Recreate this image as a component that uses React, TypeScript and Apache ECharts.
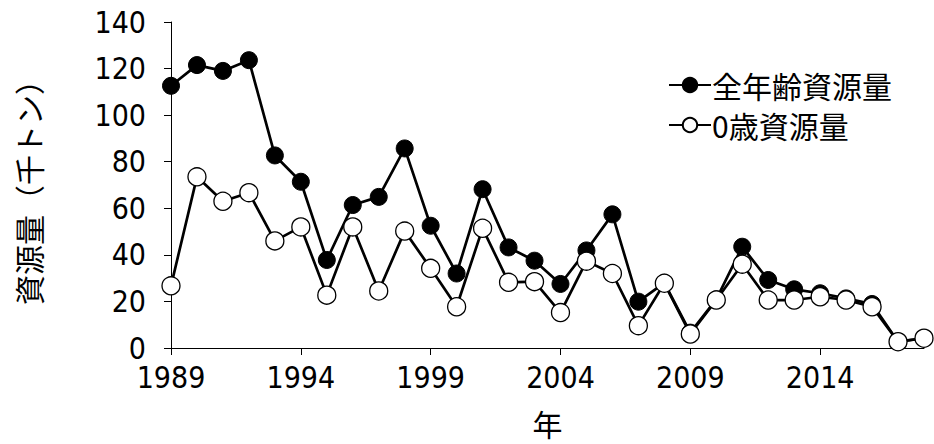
import React, { useEffect, useRef } from "react";
import * as echarts from "echarts";

const years = [
  "1989","1990","1991","1992","1993","1994","1995","1996","1997","1998",
  "1999","2000","2001","2002","2003","2004","2005","2006","2007","2008",
  "2009","2010","2011","2012","2013","2014","2015","2016","2017","2018",
];
const allAgeBiomass = [
  112.6, 121.5, 119, 123.6, 82.7, 71.4, 37.8, 61.4, 64.9, 85.7,
  52.5, 32, 68.2, 43.2, 37.5, 27.5, 41.9, 57.4, 19.9, 28,
  6.6, 20.9, 43.5, 29.2, 25.2, 23.5, 21.3, 18.9, 2.7, 4.2,
];
const age0Biomass = [
  26.7, 73.5, 63, 66.7, 46, 52, 22.7, 52, 24.5, 50.2,
  34.2, 17.7, 51.4, 28.2, 28.5, 15.2, 37.3, 32, 9.6, 27.8,
  6, 20.6, 36, 20.6, 20.6, 22, 20.6, 17.7, 2.7, 4.2,
];
const seriesNames = ["全年齢資源量", "0歳資源量"];
const yAxisTitle = "資源量（千トン）";
const xAxisTitle = "年";

const FONT = "'Noto Sans CJK JP', sans-serif";
const NUM_FONT = "'DejaVu Sans Condensed', 'Noto Sans CJK JP', sans-serif";

export default function App() {
  const ref = useRef<HTMLDivElement>(null);
  useEffect(() => {
    document.body.style.margin = "0";
    if (!ref.current) return;
    const chart = echarts.init(ref.current, undefined, { renderer: "svg" });
    chart.setOption({
      animation: false,
      backgroundColor: "#fff",
      textStyle: { fontFamily: FONT, color: "#000" },
      grid: { left: 171, right: 10, top: 22, bottom: 96, containLabel: false },
      legend: {
        orient: "vertical",
        left: 663,
        top: 65,
        itemWidth: 42,
        itemHeight: 18,
        itemGap: 10,
        textStyle: { fontFamily: FONT, fontSize: 30, color: "#000", padding: [0, 0, 0, -4] },
        data: seriesNames,
      },
      xAxis: {
        type: "category",
        data: years,
        boundaryGap: false,
        name: xAxisTitle,
        nameLocation: "middle",
        nameGap: 60,
        nameTextStyle: { fontFamily: FONT, fontSize: 30, color: "#000" },
        axisLine: { lineStyle: { color: "#000", width: 1 } },
        axisTick: { show: true, interval: 4, length: 7, inside: false, lineStyle: { color: "#000" } },
        axisLabel: { interval: 4, margin: 14, fontSize: 30, color: "#000", fontFamily: NUM_FONT },
        splitLine: { show: false },
      },
      yAxis: {
        type: "value",
        min: 0,
        max: 140,
        interval: 20,
        name: yAxisTitle,
        nameLocation: "middle",
        nameGap: 128,
        nameRotate: 90,
        nameTextStyle: { fontFamily: FONT, fontSize: 30, color: "#000" },
        axisLine: { show: true, lineStyle: { color: "#000", width: 1 } },
        axisTick: { show: true, length: 7, lineStyle: { color: "#000" } },
        axisLabel: { margin: 25, fontSize: 30, color: "#000", fontFamily: NUM_FONT },
        splitLine: { show: false },
      },
      series: [
        {
          name: seriesNames[0],
          type: "line",
          data: allAgeBiomass,
          symbol: "circle",
          symbolSize: 17,
          showAllSymbol: true,
          lineStyle: { color: "#000", width: 2.7 },
          itemStyle: { color: "#000", borderColor: "#000", borderWidth: 1 },
        },
        {
          name: seriesNames[1],
          type: "line",
          data: age0Biomass,
          symbol: "circle",
          symbolSize: 18,
          showAllSymbol: true,
          lineStyle: { color: "#000", width: 2.7 },
          itemStyle: { color: "#fff", borderColor: "#000", borderWidth: 1.3 },
        },
      ],
    });
    return () => chart.dispose();
  }, []);
  return <div ref={ref} style={{ width: 934, height: 444 }} />;
}
